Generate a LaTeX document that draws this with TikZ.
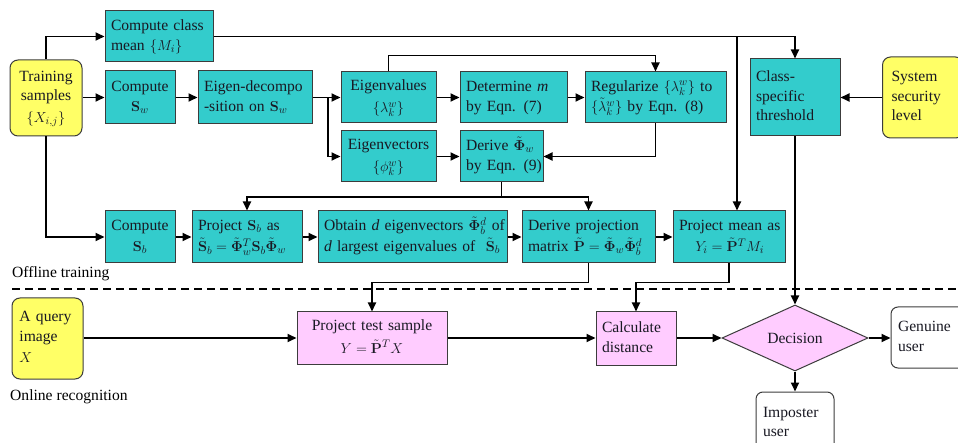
\documentclass[tikz,border=0pt]{standalone}
\usepackage[no-math]{fontspec}
\setmainfont{Liberation Serif}
\usetikzlibrary{arrows.meta,shapes.geometric}
\definecolor{tealbox}{RGB}{51,204,204}
\definecolor{yelbox}{RGB}{255,255,102}
\definecolor{pinkbox}{RGB}{255,204,255}
\definecolor{edge}{RGB}{60,60,60}
\definecolor{txt}{RGB}{25,25,35}
\newcommand{\TL}[1]{\begin{tabular}{@{}l@{}}#1\end{tabular}}
\newcommand{\TC}[1]{\begin{tabular}{@{}c@{}}#1\end{tabular}}
\tikzset{
  every node/.style={font=\fontsize{15.6}{19.5}\selectfont, text=txt},
  bx/.style={draw=edge, line width=1pt, inner xsep=6pt, inner ysep=2pt},
  tb/.style={bx, fill=tealbox},
  yb/.style={bx, fill=yelbox, rounded corners=8pt},
  pb/.style={bx, fill=pinkbox},
  wb/.style={bx, fill=white, rounded corners=7pt},
  arr/.style={-{Triangle[length=9pt,width=8pt]}, line width=1.8pt, black},
  ln/.style={line width=1.8pt, black},
}
\begin{document}
\begin{tikzpicture}[x=1pt,y=-1pt]
\useasboundingbox (0,0) rectangle (958,443);
\fill[white] (0,0) rectangle (958,443);
\clip (0,0) rectangle (958,443);

% offline training nodes
\node[yb, minimum width=72, minimum height=76, text width=60, align=center] (train) at (46,98) {\TC{Training\\samples\\[2pt]$\{X_{i,j}\}$}};
\node[tb, minimum width=108, minimum height=51, text width=96, align=left] (mean) at (159,36.5) {\TL{Compute class\\mean $\{M_i\}$}};
\node[tb, minimum width=70, minimum height=53, text width=58, align=center] (sw) at (140,97.5) {\TC{Compute\\[1pt]$\mathbf{S}_w$}};
\node[tb, minimum width=114, minimum height=53, text width=102, align=left] (eig) at (255,97.5) {\TL{Eigen-decompo\\-sition on $\mathbf{S}_w$}};
\node[tb, minimum width=95, minimum height=51, text width=83, align=center] (evals) at (388.5,97.5) {\TC{Eigenvalues\\[3pt]$\{\lambda_k^w\}$}};
\node[tb, minimum width=107, minimum height=51, text width=95, align=left] (detm) at (513.5,97.5) {\TL{Determine \textit{m}\\by Eqn. (7)}};
\node[tb, minimum width=141, minimum height=51, text width=129, align=left] (reg) at (655.5,97.5) {\TL{Regularize $\{\lambda_k^w\}$ to\\[1pt]$\{\tilde\lambda_k^w\}$ by Eqn. (8)}};
\node[tb, minimum width=95, minimum height=51, text width=83, align=center] (evecs) at (388.5,156.5) {\TC{Eigenvectors\\[3pt]$\{\phi_k^w\}$}};
\node[tb, minimum width=83, minimum height=51, text width=71, align=left] (derw) at (501.5,156.5) {\TL{Derive $\tilde{\mathbf{\Phi}}_w$\\by Eqn. (9)}};
\node[tb, minimum width=90, minimum height=77, text width=78, align=left] (thr) at (795,97.5) {\TL{Class-\\specific\\threshold}};
\node[yb, minimum width=78, minimum height=81, text width=63, inner xsep=9pt, align=left] (sys) at (923,97.5) {\TL{System\\security\\level}};

\node[tb, minimum width=70, minimum height=52, text width=58, align=center] (sb) at (140,237) {\TC{Compute\\[1pt]$\mathbf{S}_b$}};
\node[tb, minimum width=110, minimum height=52, text width=98, align=left] (psb) at (247,237) {\TL{Project $\mathbf{S}_b$ as\\[2pt]$\tilde{\mathbf{S}}_b=\tilde{\mathbf{\Phi}}_w^T\mathbf{S}_b\tilde{\mathbf{\Phi}}_w$}};
\node[tb, minimum width=189, minimum height=52, text width=177, align=left] (obt) at (412.5,237) {\TL{Obtain \textit{d} eigenvectors $\tilde{\mathbf{\Phi}}_b^d$ of\\[1pt]\textit{d} largest eigenvalues of \ $\tilde{\mathbf{S}}_b$}};
\node[tb, minimum width=133, minimum height=52, text width=121, align=left] (pmat) at (588.5,237) {\TL{Derive projection\\[2pt]matrix $\tilde{\mathbf{P}}=\tilde{\mathbf{\Phi}}_w\tilde{\mathbf{\Phi}}_b^d$}};
\node[tb, minimum width=112, minimum height=52, text width=100, align=center] (pmean) at (729,237) {\TC{Project mean as\\[2pt]$Y_i=\tilde{\mathbf{P}}^TM_i$}};

% online recognition nodes
\node[yb, minimum width=71, minimum height=81, text width=56, inner xsep=7.5pt, align=left] (query) at (47.5,338.5) {\TL{A query\\image\\[2pt]$X$}};
\node[pb, minimum width=150, minimum height=52, text width=140, inner xsep=5pt, align=center] (pts) at (372,338) {\TC{Project test sample\\[3pt]$Y=\tilde{\mathbf{P}}^TX$}};
\node[pb, minimum width=80, minimum height=53, text width=68, align=left] (dist) at (636,338.5) {\TL{Calculate\\distance}};
\node[diamond, draw=edge, line width=1pt, fill=pinkbox, minimum width=146, minimum height=66, aspect=2.2, inner sep=0pt] (dec) at (795,338) {Decision};
\node[wb, minimum width=78, minimum height=61, text width=64, inner xsep=7pt, align=left] (gen) at (930,337.5) {\TL{Genuine\\user}};
\node[wb, minimum width=78, minimum height=62, text width=64, inner xsep=7pt, align=left] (imp) at (795,423) {\TL{Imposter\\user}};

% section labels and divider
\node[anchor=base west, inner sep=0pt, text=black] (offl) at (12,278) {Offline training};
\node[anchor=base west, inner sep=0pt, text=black] (onl) at (10,400) {Online recognition};
\coordinate (dl) at (12,289);
\coordinate (dr) at (958,289);
\draw[line width=1.8pt, dash pattern=on 8pt off 5pt] (dl) -- (dr);

% connectors: offline
\draw[arr] (train.north) |- (mean.west);
\draw[arr] (train.east |- sw.west) -- (sw.west);
\draw[arr] (train.south) |- (sb.west);
\draw[arr] (sw) -- (eig);
\draw[arr] (eig.east) -- (evals.west);
\coordinate (br1) at (328,97.5);
\draw[arr] (br1) |- (evecs.west);
\draw[arr] (evals) -- (detm);
\draw[arr] (detm) -- (reg);
\draw[arr] (evals.north) -- ++(0,-16) -| (reg.north);
\draw[arr] (reg.south) |- (derw.east);
\draw[arr] (evecs) -- (derw);
\coordinate (hb) at (501.5,197);
\draw[ln] (derw.south) -- (hb);
\draw[arr] (hb) -| (psb.north);
\draw[arr] (hb) -| (pmat.north);
\draw[arr] (mean.east) -| (thr.north);
\coordinate (j1) at (737,36.5);
\draw[arr] (j1) -- (j1 |- pmean.north);
\draw[arr] (sys.west) -- (thr.east);
\draw[arr] (thr.south) -- (dec.north);
\draw[arr] (sb) -- (psb);
\draw[arr] (psb) -- (obt);
\draw[arr] (obt) -- (pmat);
\draw[arr] (pmat) -- (pmean);
\draw[arr] (pmat.south) -- ++(0,19) -| (pts.north);
\draw[arr] (pmean.south) -- ++(0,19) -| (dist.north);

% connectors: online
\draw[arr] (query.east |- pts.west) -- (pts.west);
\draw[arr] (pts.east) -- (dist.west |- pts.east);
\draw[arr] (dist.east |- dec.west) -- (dec.west);
\draw[arr] (dec.east) -- (gen.west |- dec.east);
\draw[arr] (dec.south) -- (imp.north);
\end{tikzpicture}
\end{document}
